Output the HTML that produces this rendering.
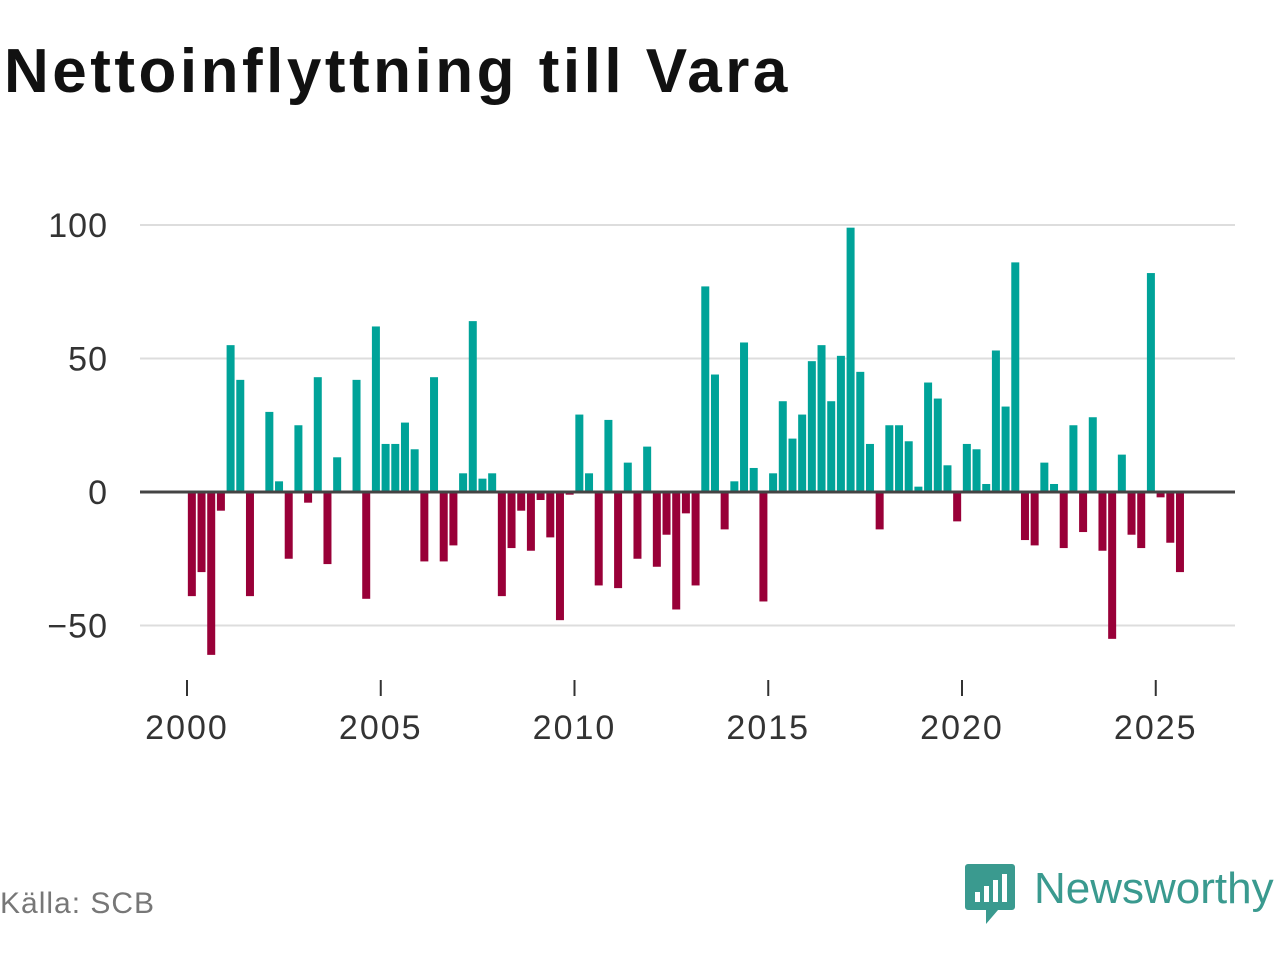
<!DOCTYPE html>
<html><head><meta charset="utf-8"><style>
body{margin:0;background:#fff;font-family:"Liberation Sans",sans-serif;}
#wrap{position:relative;width:1280px;height:960px;overflow:hidden;}
h1{position:absolute;left:4px;top:36px;margin:0;font-size:62px;font-weight:bold;color:#111;letter-spacing:3.5px;}
#src{position:absolute;left:0;top:887px;font-size:30px;color:#777;letter-spacing:1px;}
#logo{position:absolute;left:964px;top:862px;}
#logotxt{position:absolute;left:1034px;top:864px;font-size:44px;color:#3a9a8f;}
</style></head><body>
<div id="wrap">
<h1>Nettoinflyttning till Vara</h1>
<svg id="chart" width="1280" height="960" style="position:absolute;left:0;top:0"></svg>
<div id="src">Källa: SCB</div>
<svg id="logo" width="52" height="64" viewBox="0 0 52 64">
<path d="M4 2h44a3 3 0 0 1 3 3v40a3 3 0 0 1-3 3H34l-12 14V48H4a3 3 0 0 1-3-3V5a3 3 0 0 1 3-3z" fill="#3a9a8f"/>
<rect x="11" y="30" width="5" height="10" fill="#fff"/><rect x="20" y="24" width="5" height="16" fill="#fff"/><rect x="29" y="18" width="5" height="22" fill="#fff"/><rect x="38" y="12" width="5" height="28" fill="#fff"/>
</svg>
<div id="logotxt">Newsworthy</div>
</div>
<script>
const startYear = 2000;
const values = [-39,-30,-61,-7,55,42,-39,0,30,4,
-25,25,-4,43,-27,13,0,42,-40,62,
18,18,26,16,-26,43,-26,-20,7,64,
5,7,-39,-21,-7,-22,-3,-17,-48,-1,
29,7,-35,27,-36,11,-25,17,-28,-16,
-44,-8,-35,77,44,-14,4,56,9,-41,
7,34,20,29,49,55,34,51,99,45,
18,-14,25,25,19,2,41,35,10,-11,
18,16,3,53,32,86,-18,-20,11,3,
-21,25,-15,28,-22,-55,14,-16,-21,82,
-2,-19,-30];
const yTicks = [-50,0,50,100];
const xTicks = [2000,2005,2010,2015,2020,2025];

const NS="http://www.w3.org/2000/svg";
const svg=document.getElementById('chart');
const x=t=>187+(t-2000)*38.75;
const y=v=>492-v*2.67;
function el(tag,attrs,parent){const e=document.createElementNS(NS,tag);for(const k in attrs)e.setAttribute(k,attrs[k]);(parent||svg).appendChild(e);return e;}
yTicks.forEach(v=>{
  if(v!==0){const g=el('line',{x1:140,x2:1235,y1:y(v),y2:y(v),stroke:'#ddd','stroke-width':2});
  
  }
  const t=el('text',{x:108,y:y(v)+12,'text-anchor':'end','font-size':34,'letter-spacing':1,fill:'#333','font-family':'Liberation Sans, sans-serif'});
  t.textContent=v<0?'\u2212'+Math.abs(v):v;
  
  
});
values.forEach((v,i)=>{
  const t=startYear+(i+0.5)/4;
  const r=el('rect',{x:x(t)-4,width:8,y:v>=0?y(v):y(0),height:Math.abs(y(v)-y(0)),fill:v>=0?'#00a399':'#990038'});
  
  
});
const z=el('line',{x1:140,x2:1235,y1:y(0),y2:y(0),stroke:'#444','stroke-width':3});


xTicks.forEach(v=>{
  const l=el('line',{x1:x(v),x2:x(v),y1:680,y2:696,stroke:'#333','stroke-width':2});
  
  
  const t=el('text',{x:x(v),y:739,'text-anchor':'middle','font-size':34,'letter-spacing':2,fill:'#333','font-family':'Liberation Sans, sans-serif'});
  t.textContent=v;
  
  
});
</script>
</body></html>
